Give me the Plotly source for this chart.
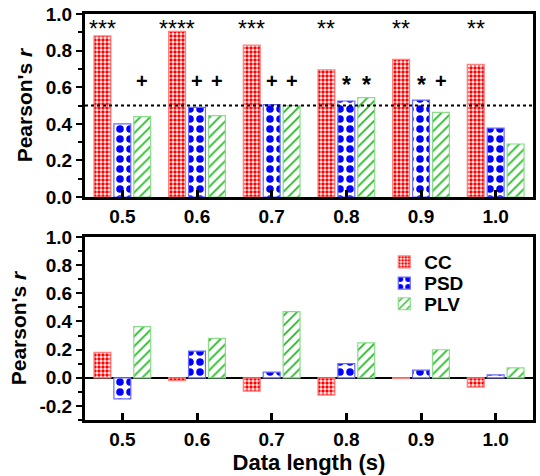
import plotly.graph_objects as go
from plotly.subplots import make_subplots

categories = ["0.5", "0.6", "0.7", "0.8", "0.9", "1.0"]
series_names = ["CC", "PSD", "PLV"]

top_cc = [0.88, 0.905, 0.83, 0.695, 0.752, 0.725]
top_psd = [0.40, 0.49, 0.505, 0.525, 0.53, 0.377]
top_plv = [0.44, 0.445, 0.50, 0.543, 0.463, 0.29]

bot_cc = [0.18, -0.02, -0.095, -0.123, -0.005, -0.066]
bot_psd = [-0.15, 0.19, 0.04, 0.10, 0.054, 0.02]
bot_plv = [0.364, 0.28, 0.47, 0.248, 0.199, 0.07]

cc_marks = ["***", "****", "***", "**", "**", "**"]
psd_marks = ["", "+", "+", "*", "*", ""]
plv_marks = ["+", "+", "+", "*", "+", ""]

threshold = 0.5
top_ticks = [0.0, 0.2, 0.4, 0.6, 0.8, 1.0]
bot_ticks = [-0.2, 0.0, 0.2, 0.4, 0.6, 0.8, 1.0]
bot_ticktext = ["-0.2", "0.0", "0.2", "0.4", "0.6", "0.8", "1.0"]

FONT = "Liberation Sans, Arial, sans-serif"
styles = {
    "CC": dict(fg="#ff0000", line="#ff8080", shape=".", size=4, solidity=0.6, legend="legend", ly=0.389),
    "PSD": dict(fg="#0000ff", line="#6a6aff", shape=".", size=10, solidity=0.45, legend="legend2", ly=0.337),
    "PLV": dict(fg="#22bb22", line="#88dd88", shape="/", size=7, solidity=0.25, legend="legend3", ly=0.286),
}

BARGAP = 0.2
GROUPGAP = 0.15

fig = make_subplots(rows=2, cols=1)

def add_bars(vals_list, row, showlegend):
    for name, vals in zip(series_names, vals_list):
        s = styles[name]
        fig.add_trace(go.Bar(
            x=categories, y=vals, name=name, showlegend=showlegend, legend=s["legend"],
            marker=dict(
                color="white",
                line=dict(color=s["line"], width=1.2),
                pattern=dict(shape=s["shape"], fgcolor=s["fg"], bgcolor="white",
                             size=s["size"], solidity=s["solidity"], fillmode="replace"),
            ),
        ), row=row, col=1)

add_bars([top_cc, top_psd, top_plv], 1, False)
add_bars([bot_cc, bot_psd, bot_plv], 2, True)

axis_common = dict(showline=True, linecolor="black", linewidth=3, mirror=True,
                   showgrid=False, tickfont=dict(family=FONT, size=19, color="black", weight="bold"))

fig.update_xaxes(**axis_common, ticks="inside", ticklen=7, tickwidth=3, tickcolor="black",
                 type="category", categoryorder="array", categoryarray=categories,
                 range=[-0.5, 5.5], zeroline=False)
fig.update_yaxes(**axis_common, ticks="outside", ticklen=6, tickwidth=2, tickcolor="black",
                 tickformat=".1f",
                 minor=dict(ticks="outside", ticklen=4, tickwidth=2, tickcolor="black", dtick=0.1, showgrid=False))

title_font = dict(family=FONT, size=21, color="black", weight="bold")
fig.update_yaxes(range=[0, 1.0], tickvals=top_ticks, zeroline=False,
                 domain=[0.549, 1.0], row=1, col=1,
                 title=dict(text="Pearson's <i>r</i>", font=title_font, standoff=8))
fig.update_yaxes(range=[-0.3, 1.0], tickvals=bot_ticks, ticktext=bot_ticktext,
                 zeroline=True, zerolinecolor="black", zerolinewidth=2,
                 domain=[0.0, 0.4507], row=2, col=1,
                 title=dict(text="Pearson's <i>r</i>", font=title_font, standoff=8))
fig.update_xaxes(row=2, col=1, title=dict(text="Data length (s)", font=dict(family=FONT, size=22, color="black", weight="bold"), standoff=6))

# threshold dotted line
fig.add_shape(type="line", xref="x domain", yref="y", x0=0, x1=1, y0=threshold, y1=threshold,
              line=dict(color="black", width=2, dash="dot"), layer="above")

# significance annotations
slot = (1 - BARGAP) / 3
offsets = {"CC": -slot, "PSD": 0.0, "PLV": slot}
for i, m in enumerate(cc_marks):
    fig.add_annotation(x=i + offsets["CC"], y=0.92, xref="x", yref="y", text=m, showarrow=False,
                       font=dict(family=FONT, size=23, color="black"))
for marks, key in ((psd_marks, "PSD"), (plv_marks, "PLV")):
    for i, m in enumerate(marks):
        if m:
            fig.add_annotation(x=i + offsets[key], y=0.635 if m == "+" else 0.61, xref="x", yref="y",
                               text=m, showarrow=False,
                               font=dict(family=FONT, size=20 if m == "+" else 23, color="black", weight="bold"))

legend_common = dict(x=0.668, xanchor="left", yanchor="middle", bgcolor="rgba(0,0,0,0)",
                     font=dict(family=FONT, size=19, color="black", weight="bold"), itemwidth=30)

fig.update_layout(
    width=540, height=476,
    margin=dict(l=85, r=4, t=14, b=56),
    barmode="group", bargap=BARGAP, bargroupgap=GROUPGAP,
    plot_bgcolor="white", paper_bgcolor="white",
    font=dict(family=FONT, color="black"),
    legend=dict(**legend_common, y=styles["CC"]["ly"]),
    legend2=dict(**legend_common, y=styles["PSD"]["ly"]),
    legend3=dict(**legend_common, y=styles["PLV"]["ly"]),
)

fig.write_html("out.html")
